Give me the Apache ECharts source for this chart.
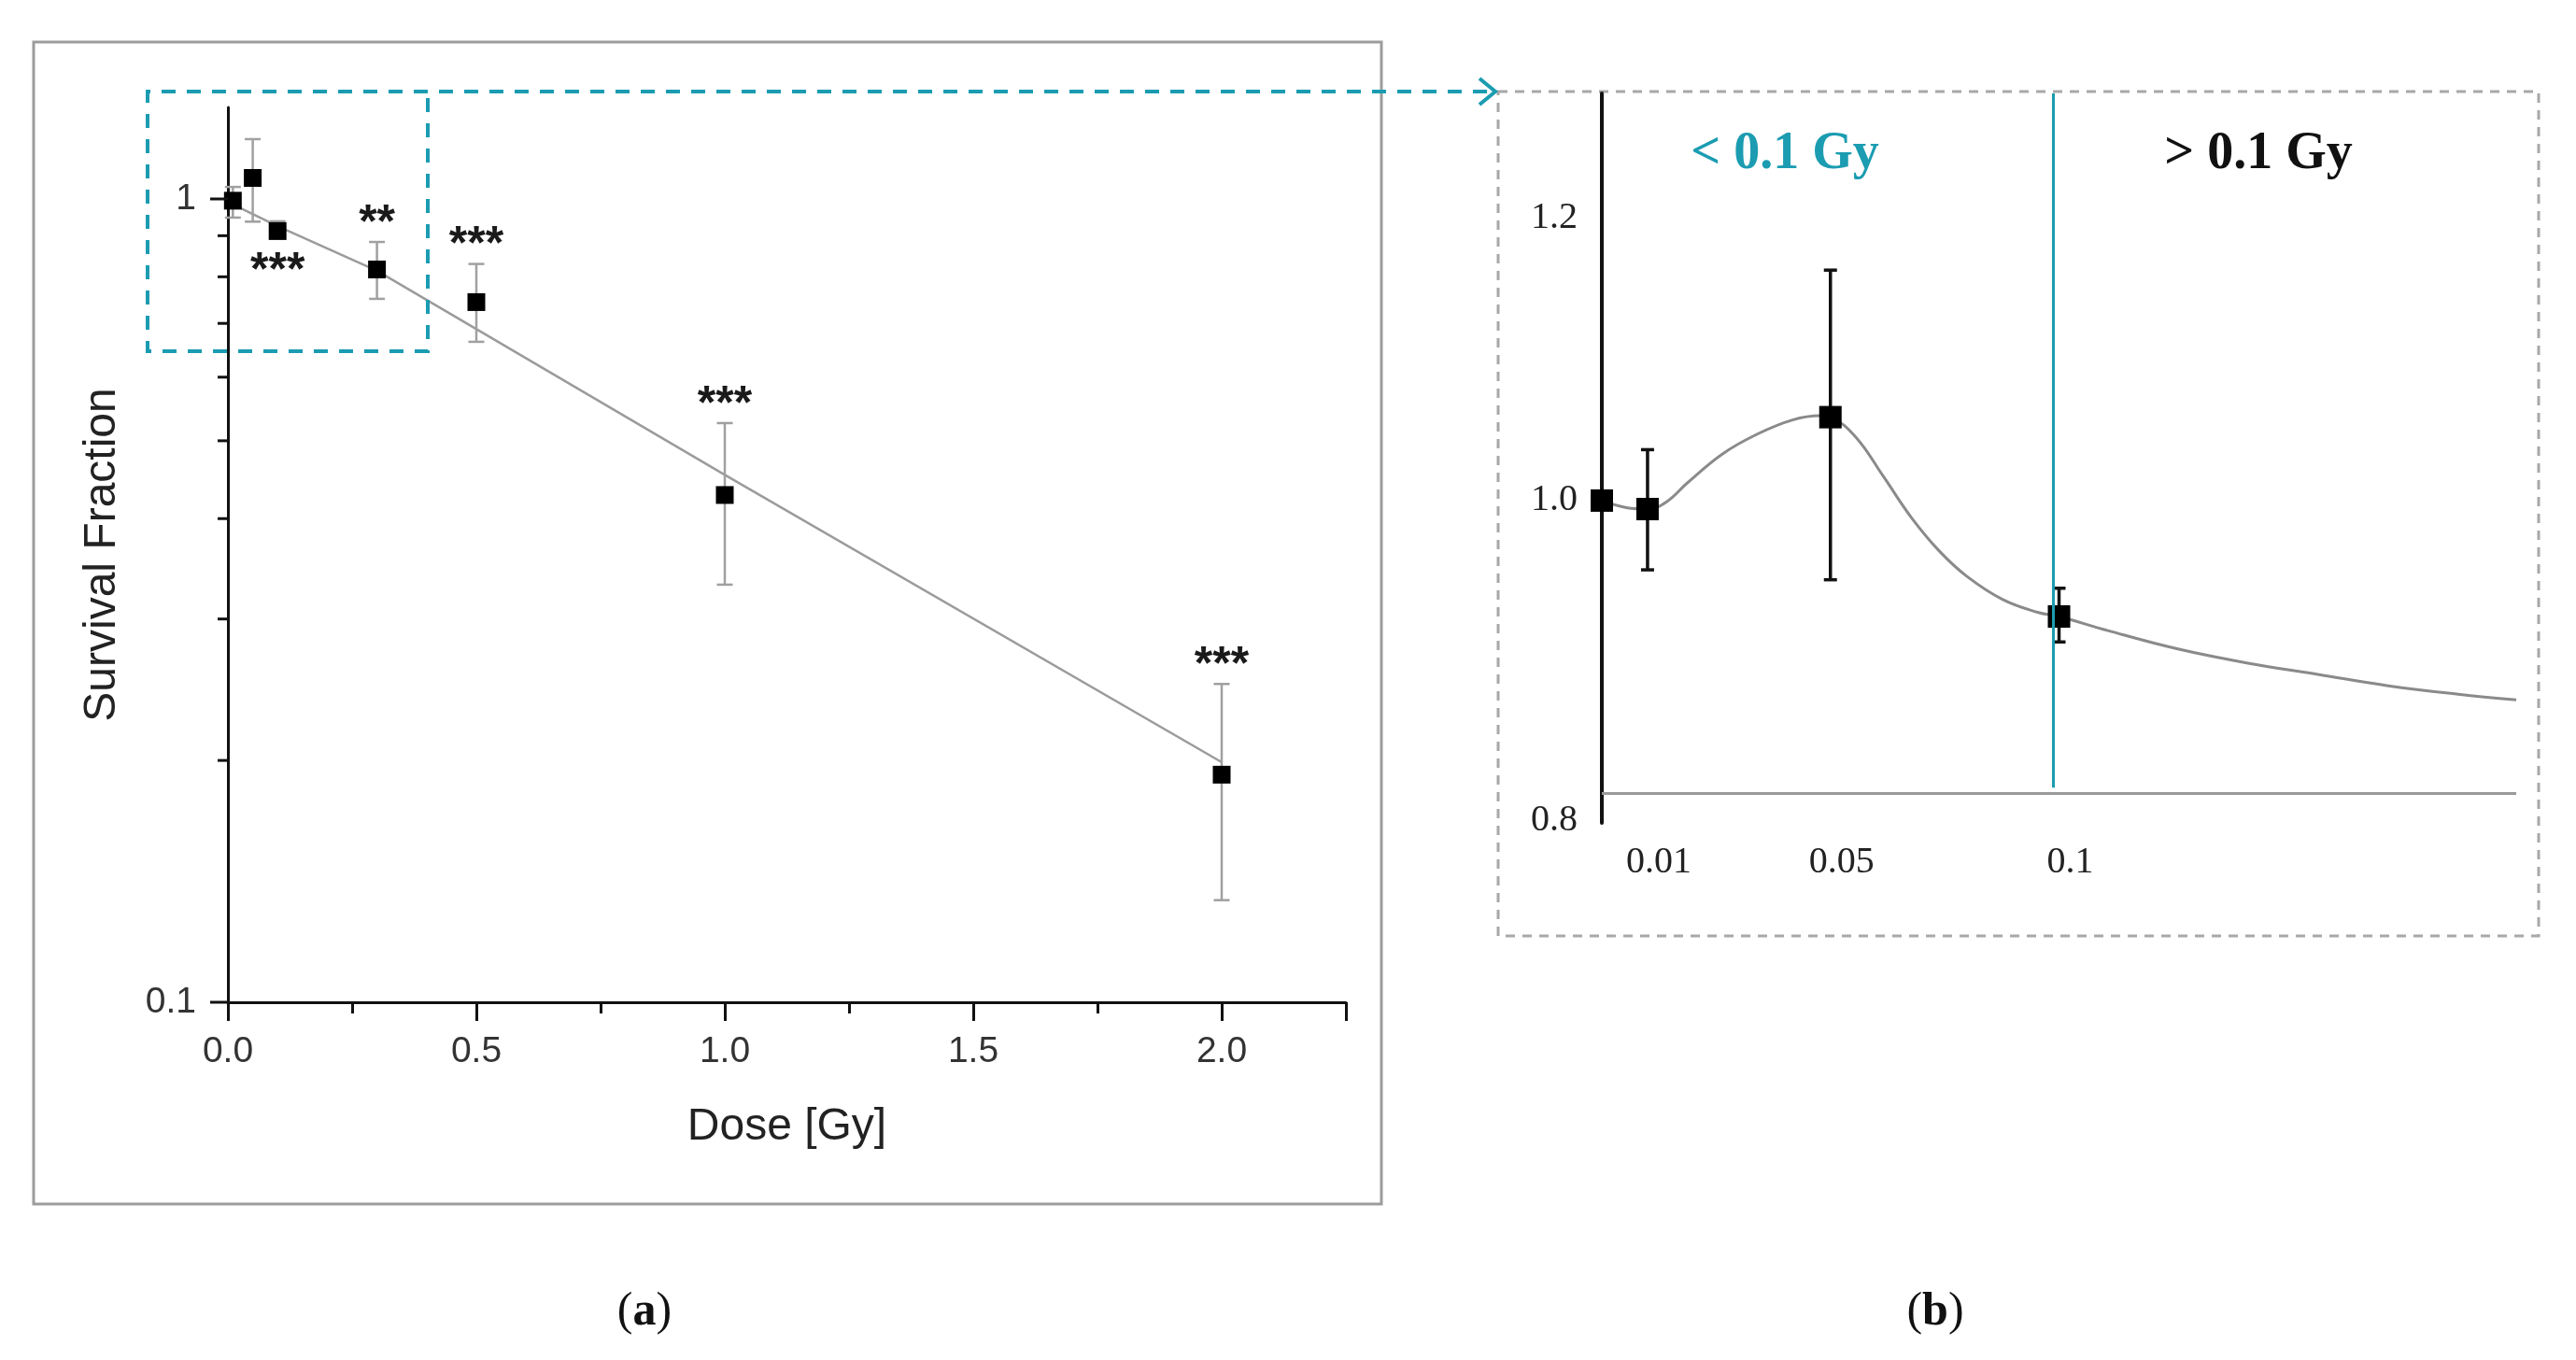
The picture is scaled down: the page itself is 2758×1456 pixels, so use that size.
<!DOCTYPE html>
<html>
<head>
<meta charset="utf-8">
<script src="https://cdn.jsdelivr.net/npm/echarts@6/dist/echarts.min.js"></script>
<style>
html,body{margin:0;padding:0;background:#fff;}
#c{width:2758px;height:1456px;}
</style>
</head>
<body>
<div id="c"></div>
<script>
// ---------- Panel (a): survival fraction vs dose (log scale) ----------
var doseA    = [0.01, 0.05, 0.1, 0.3, 0.5, 1.0, 2.0];
var survA    = [0.995, 1.062, 0.912, 0.817, 0.744, 0.428, 0.192];
var errLowA  = [0.948, 0.937, 0.900, 0.751, 0.664, 0.331, 0.134];
var errHighA = [1.035, 1.187, 0.938, 0.884, 0.830, 0.526, 0.249];
var sigA     = ['', '', '***', '**', '***', '***', '***'];
var sigPosA  = ['', '', 'below', 'above', 'above', 'above', 'above'];
var fitDoseA = [0.015, 0.1, 0.3, 1.0, 2.0];
var fitSurvA = [0.981, 0.925, 0.814, 0.4535, 0.199];
var majorTicksA = [0.1, 1];
var minorTicksA = [0.2, 0.3, 0.4, 0.5, 0.6, 0.7, 0.8, 0.9];
var xTicksA = ['0.0', '0.5', '1.0', '1.5', '2.0'];

// ---------- Panel (b): low-dose zoom ----------
var doseB    = [0, 0.01, 0.05, 0.1];
var survB    = [1.0, 0.994, 1.059, 0.918];
var errLowB  = [null, 0.951, 0.944, 0.900];
var errHighB = [null, 1.036, 1.163, 0.938];
var curveDoseB = [0, 0.0054, 0.01, 0.0141, 0.0187, 0.0264, 0.034, 0.0417, 0.0478, 0.05, 0.0555, 0.0616, 0.0677, 0.0739, 0.08, 0.0877, 0.0953, 0.1, 0.1107, 0.126, 0.1413, 0.1566, 0.172, 0.1873, 0.2];
var curveSurvB = [1.0, 0.995, 0.994, 0.999, 1.0125, 1.033, 1.047, 1.057, 1.060, 1.059, 1.045, 1.017, 0.988, 0.964, 0.946, 0.930, 0.921, 0.918, 0.908, 0.895, 0.885, 0.877, 0.869, 0.863, 0.859];
var yLabelsB = [0.8, 1.0, 1.2];
var xLabelsB = [0.01, 0.05, 0.1];
var thresholdDoseB = 0.0987;
var baselineB = 0.793;

var teal = '#1b9cb1';

var chart = echarts.init(document.getElementById('c'));

var option = {
  animation: false,
  backgroundColor: '#fff',
  grid: [
    {left: 244, top: 115, width: 1197, height: 958},
    {left: 1715, top: 100, width: 979, height: 781}
  ],
  xAxis: [
    {
      gridIndex: 0, type: 'value', min: 0, max: 2.25, interval: 0.5,
      axisLine: {lineStyle: {color: '#111', width: 3}},
      axisTick: {length: 20, lineStyle: {color: '#111', width: 3}},
      minorTick: {show: true, splitNumber: 2, length: 12, lineStyle: {color: '#111', width: 3}},
      splitLine: {show: false},
      axisLabel: {margin: 34, fontSize: 39, color: '#333', fontFamily: 'Liberation Sans',
        formatter: function (v) { return xTicksA[Math.round(v / 0.5)] || ''; }},
      name: 'Dose [Gy]', nameLocation: 'middle', nameGap: 110,
      nameTextStyle: {fontSize: 48, color: '#222', fontFamily: 'Liberation Sans'}
    },
    {
      gridIndex: 1, type: 'value', min: 0, max: 0.2,
      axisLine: {show: false}, axisTick: {show: false}, splitLine: {show: false},
      axisLabel: {customValues: xLabelsB, margin: 22, fontSize: 40, color: '#222',
        fontFamily: 'Liberation Serif', padding: [0, 0, 0, 24],
        formatter: function (v) { return String(v); }}
    }
  ],
  yAxis: [
    {
      gridIndex: 0, type: 'log', logBase: 10, min: 0.1, max: 1.3,
      axisLine: {show: true, lineStyle: {color: '#111', width: 3}},
      axisTick: {show: false},
      splitLine: {show: false},
      axisLabel: {margin: 34, fontSize: 39, color: '#333', fontFamily: 'Liberation Sans',
        showMaxLabel: false,
        formatter: function (v) { return v > 1.05 ? '' : (v >= 1 ? '1' : '0.1'); }},
      name: 'Survival Fraction', nameLocation: 'middle', nameGap: 110,
      nameTextStyle: {fontSize: 48, color: '#222', fontFamily: 'Liberation Sans'}
    },
    {
      gridIndex: 1, type: 'value', min: 0.772, max: 1.288,
      axisLine: {show: true, lineStyle: {color: '#111', width: 4}},
      axisTick: {show: false}, splitLine: {show: false},
      axisLabel: {customValues: yLabelsB, margin: 26, fontSize: 40, color: '#222',
        fontFamily: 'Liberation Serif',
        formatter: function (v) { return v < 0.9 ? '{low|' + v.toFixed(1) + '}' : v.toFixed(1); },
        rich: {low: {fontSize: 40, color: '#222', fontFamily: 'Liberation Serif', padding: [80, 0, 0, 0]}}}
    }
  ],
  graphic: [
    {type: 'rect', z: -10, shape: {x: 36, y: 45, width: 1443, height: 1244},
      style: {fill: 'none', stroke: '#9c9c9c', lineWidth: 3}},
    {type: 'polyline', z: 10, shape: {points: [[1592, 98], [158, 98], [158, 376], [458, 376], [458, 98]]},
      style: {fill: 'none', stroke: teal, lineWidth: 4, lineDash: [15, 12]}},
    {type: 'polyline', z: 10, shape: {points: [[1584, 84], [1601, 98], [1584, 112]]},
      style: {fill: 'none', stroke: teal, lineWidth: 4}},
    {type: 'rect', z: -10, shape: {x: 1604, y: 98, width: 1114, height: 904},
      style: {fill: 'none', stroke: '#a8a8a8', lineWidth: 3, lineDash: [10, 8]}},
    {type: 'text', x: 1911, y: 166, style: {text: '< 0.1 Gy', fill: teal, fontSize: 56,
      fontWeight: 'bold', fontFamily: 'Liberation Serif', align: 'center', verticalAlign: 'middle'}},
    {type: 'text', x: 2418, y: 166, style: {text: '> 0.1 Gy', fill: '#111', fontSize: 56,
      fontWeight: 'bold', fontFamily: 'Liberation Serif', align: 'center', verticalAlign: 'middle'}},
    {type: 'text', x: 690, y: 1405, style: {text: '({b|a})', fill: '#111', fontSize: 50,
      fontFamily: 'Liberation Serif', align: 'center', verticalAlign: 'middle',
      rich: {b: {fontSize: 50, fontWeight: 'bold', fontFamily: 'Liberation Serif', fill: '#111'}}}},
    {type: 'text', x: 2072, y: 1405, style: {text: '({b|b})', fill: '#111', fontSize: 50,
      fontFamily: 'Liberation Serif', align: 'center', verticalAlign: 'middle',
      rich: {b: {fontSize: 50, fontWeight: 'bold', fontFamily: 'Liberation Serif', fill: '#111'}}}}
  ],
  series: [
    {
      type: 'line', xAxisIndex: 0, yAxisIndex: 0, z: 2,
      data: fitDoseA.map(function (d, i) { return [d, fitSurvA[i]]; }),
      symbol: 'none', lineStyle: {color: '#9b9b9b', width: 2.5}
    },
    {
      type: 'custom', xAxisIndex: 0, yAxisIndex: 0, z: 3,
      data: doseA.map(function (d, i) { return [d, errLowA[i], errHighA[i]]; }),
      encode: {x: 0, y: [1, 2]},
      renderItem: function (params, api) {
        var x = api.value(0);
        var hi = api.coord([x, api.value(2)]);
        var lo = api.coord([x, api.value(1)]);
        var mid = api.coord([x, survA[params.dataIndex]]);
        var c = '#a0a0a0', w = 8.5;
        var children = [
          {type: 'line', shape: {x1: hi[0], y1: hi[1], x2: lo[0], y2: lo[1]}, style: {stroke: c, lineWidth: 2.5}},
          {type: 'line', shape: {x1: hi[0] - w, y1: hi[1], x2: hi[0] + w, y2: hi[1]}, style: {stroke: c, lineWidth: 2.5}},
          {type: 'line', shape: {x1: lo[0] - w, y1: lo[1], x2: lo[0] + w, y2: lo[1]}, style: {stroke: c, lineWidth: 2.5}}
        ];
        var s = sigA[params.dataIndex];
        if (s) {
          var ty = sigPosA[params.dataIndex] === 'below' ? mid[1] + 35 : hi[1] - 28;
          children.push({type: 'text', x: hi[0], y: ty + 9, style: {text: s, fill: '#1a1a1a',
            fontSize: 50, fontWeight: 'bold', fontFamily: 'Liberation Sans', align: 'center', verticalAlign: 'middle'}});
        }
        return {type: 'group', children: children};
      }
    },
    {
      type: 'scatter', xAxisIndex: 0, yAxisIndex: 0, z: 4,
      data: doseA.map(function (d, i) { return [d, survA[i]]; }),
      symbol: 'rect', symbolSize: 19, itemStyle: {color: '#000', opacity: 1}
    },
    {
      type: 'custom', xAxisIndex: 0, yAxisIndex: 0, z: 5, silent: true,
      data: majorTicksA.map(function (v) { return [0, v, 19]; })
        .concat(minorTicksA.map(function (v) { return [0, v, 11]; })),
      renderItem: function (params, api) {
        var p = api.coord([0, api.value(1)]);
        var len = api.value(2);
        return {type: 'line', shape: {x1: p[0] - len, y1: p[1], x2: p[0], y2: p[1]},
          style: {stroke: '#111', lineWidth: 3}};
      }
    },
    {
      type: 'line', xAxisIndex: 1, yAxisIndex: 1, z: 2,
      data: curveDoseB.map(function (d, i) { return [d, curveSurvB[i]]; }),
      smooth: 0.4, symbol: 'none', lineStyle: {color: '#8a8a8a', width: 3},
      markLine: {
        silent: true, symbol: 'none', label: {show: false}, animation: false,
        data: [
          [{coord: [0, baselineB], lineStyle: {color: '#9a9a9a', width: 3, type: 'solid'}}, {coord: [0.2, baselineB]}],
          [{coord: [thresholdDoseB, 0.797], lineStyle: {color: teal, width: 3, type: 'solid'}}, {coord: [thresholdDoseB, 1.288]}]
        ]
      }
    },
    {
      type: 'custom', xAxisIndex: 1, yAxisIndex: 1, z: 3,
      data: doseB.map(function (d, i) { return [d, errLowB[i], errHighB[i]]; }).filter(function (r) { return r[1] !== null; }),
      encode: {x: 0, y: [1, 2]},
      renderItem: function (params, api) {
        var x = api.value(0);
        var hi = api.coord([x, api.value(2)]);
        var lo = api.coord([x, api.value(1)]);
        var c = '#111', w = 7;
        return {type: 'group', children: [
          {type: 'line', shape: {x1: hi[0], y1: hi[1], x2: lo[0], y2: lo[1]}, style: {stroke: c, lineWidth: 3.5}},
          {type: 'line', shape: {x1: hi[0] - w, y1: hi[1], x2: hi[0] + w, y2: hi[1]}, style: {stroke: c, lineWidth: 3.5}},
          {type: 'line', shape: {x1: lo[0] - w, y1: lo[1], x2: lo[0] + w, y2: lo[1]}, style: {stroke: c, lineWidth: 3.5}}
        ]};
      }
    },
    {
      type: 'scatter', xAxisIndex: 1, yAxisIndex: 1, z: 4,
      data: doseB.map(function (d, i) { return [d, survB[i]]; }),
      symbol: 'rect', symbolSize: 24, itemStyle: {color: '#000', opacity: 1}
    }
  ]
};
chart.setOption(option);
</script>
</body>
</html>
